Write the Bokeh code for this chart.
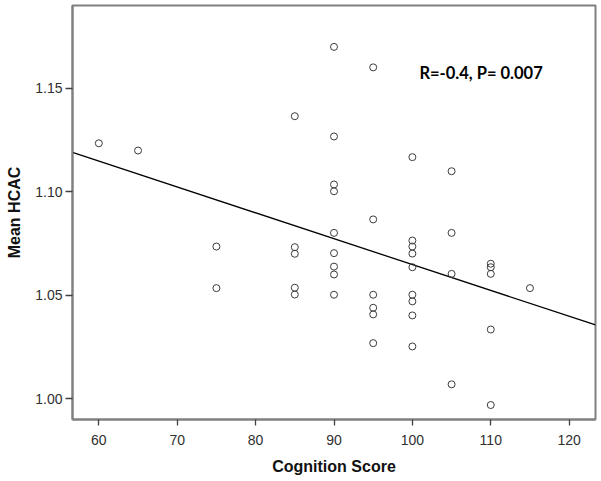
import numpy as np
from bokeh.plotting import figure
from bokeh.models import FixedTicker, NumeralTickFormatter, Label, Range1d
from bokeh.embed import file_html
from bokeh.resources import INLINE

# Data
cognition = [60, 65,
             75, 75,
             85, 85, 85, 85, 85,
             90, 90, 90, 90, 90, 90, 90, 90, 90,
             95, 95, 95, 95, 95, 95,
             100, 100, 100, 100, 100, 100, 100, 100, 100,
             105, 105, 105, 105,
             110, 110, 110, 110, 110,
             115]
hcac = [1.1234, 1.1199,
        1.0735, 1.0534,
        1.1365, 1.0732, 1.0700, 1.0536, 1.0503,
        1.1700, 1.1267, 1.1035, 1.1002, 1.0801, 1.0703, 1.0638, 1.0600, 1.0502,
        1.1601, 1.0866, 1.0502, 1.0439, 1.0407, 1.0268,
        1.1167, 1.0764, 1.0735, 1.0701, 1.0635, 1.0502, 1.0470, 1.0402, 1.0252,
        1.1099, 1.0801, 1.0603, 1.0069,
        1.0652, 1.0635, 1.0603, 1.0334, 0.9969,
        1.0534]
x_ticks = [60, 70, 80, 90, 100, 110, 120]
y_ticks = [1.00, 1.05, 1.10, 1.15]
annotation = "R=-0.4, P= 0.007"

x_lo, x_hi = 56.64, 123.36
y_lo, y_hi = 0.9899, 1.19

p = figure(width=598, height=480, output_backend="svg", toolbar_location=None,
           x_range=Range1d(x_lo, x_hi), y_range=Range1d(y_lo, y_hi),
           min_border_left=72, min_border_right=3, min_border_top=5, min_border_bottom=61)
p.background_fill_color = "white"
p.border_fill_color = "white"
p.outline_line_color = "#808080"
p.outline_line_width = 2
p.xgrid.visible = False
p.ygrid.visible = False

# regression line (least squares from the data)
slope, intercept = np.polyfit(cognition, hcac, 1)
lx = np.array([x_lo, x_hi])
p.line(lx, intercept + slope * lx, line_color="black", line_width=1.3)

p.scatter(cognition, hcac, marker="circle", size=7, fill_color=None,
          line_color="#3c3c3c", line_width=1)

for ax in (p.xaxis[0], p.yaxis[0]):
    ax.axis_line_color = "#808080"
    ax.axis_line_width = 2
    ax.major_tick_line_color = "#404040"
    ax.major_tick_line_width = 1.3
    ax.minor_tick_line_color = None
    ax.major_tick_in = 0
    ax.major_label_text_font = "Liberation Sans"
    ax.major_label_text_font_size = "14px"
    ax.major_label_text_color = "#303030"
    ax.axis_label_text_font = "Liberation Sans"
    ax.axis_label_text_font_style = "bold"
    ax.axis_label_text_font_size = "16px"
    ax.axis_label_text_color = "#111111"

p.xaxis.ticker = FixedTicker(ticks=x_ticks)
p.yaxis.ticker = FixedTicker(ticks=y_ticks)
p.yaxis.formatter = NumeralTickFormatter(format="0.00")
p.xaxis.major_tick_out = 6
p.yaxis.major_tick_out = 7
p.xaxis.major_label_standoff = 9
p.yaxis.major_label_standoff = 3
p.xaxis.axis_label = "Cognition Score"
p.yaxis.axis_label = "Mean HCAC"
p.xaxis.axis_label_standoff = 10
p.yaxis.axis_label_standoff = 9

lab = Label(x=100.9, y=1.1572, text=annotation, text_font="Lato",
            text_font_style="bold", text_font_size="16.5px", text_color="black",
            text_baseline="alphabetic")
p.add_layout(lab)

open("out.html", "w").write(file_html(p, INLINE))
